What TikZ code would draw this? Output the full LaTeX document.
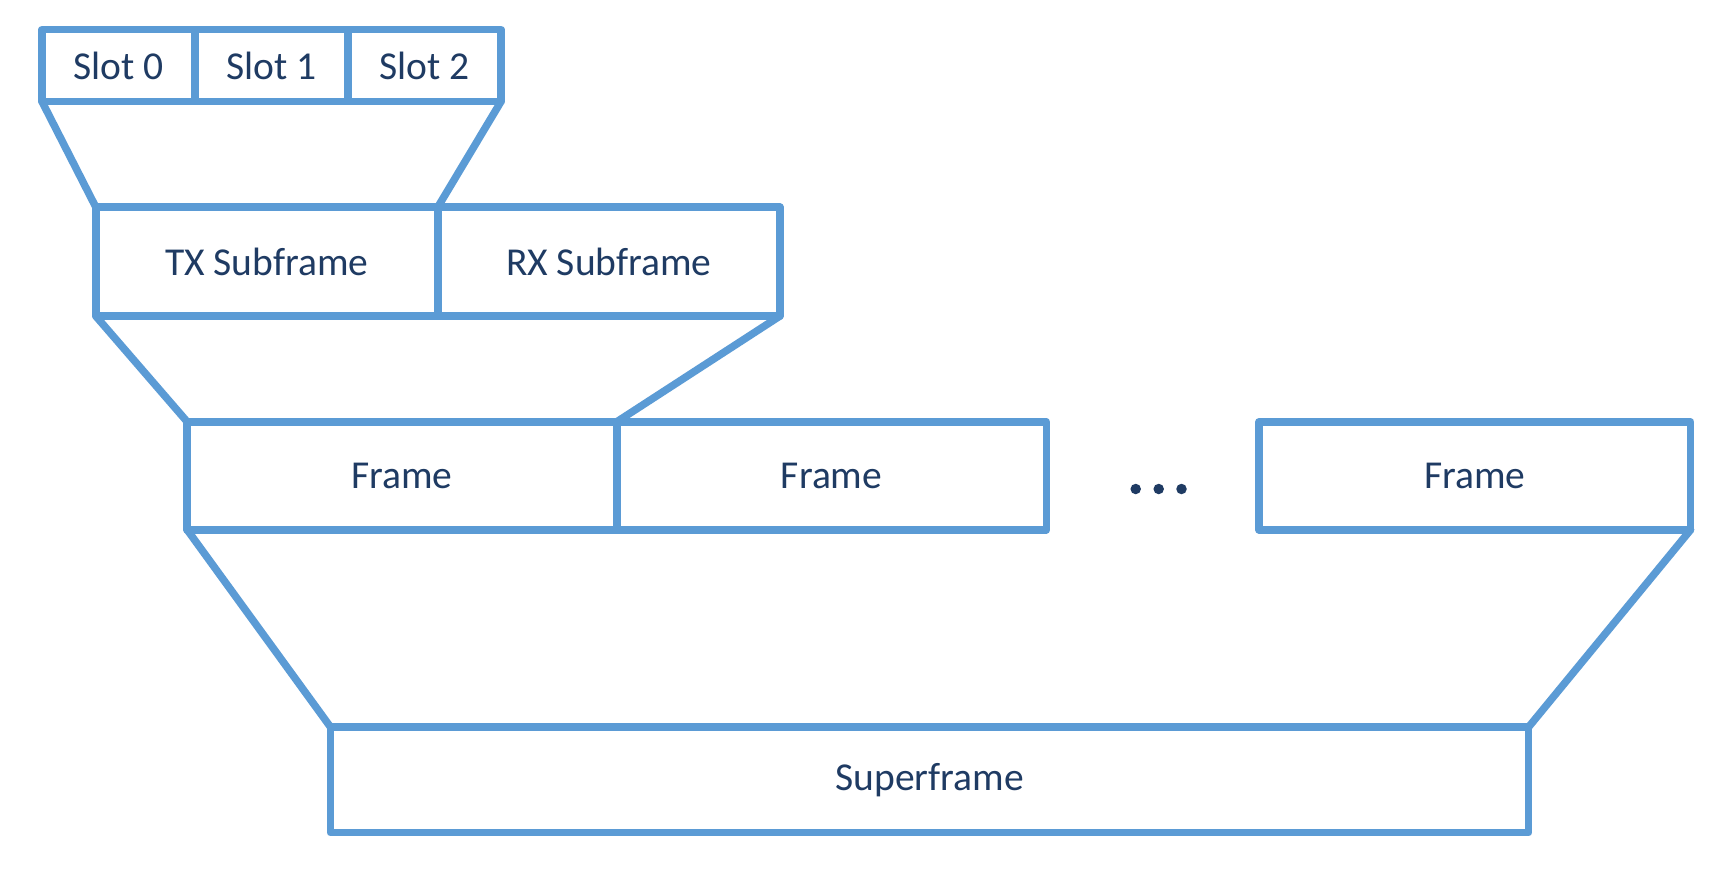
\documentclass[tikz,border=0pt]{standalone}
\usepackage{fontspec}
\setmainfont{Carlito}
\definecolor{linecol}{HTML}{5B9BD5}
\definecolor{txtcol}{HTML}{1F3B63}
\begin{document}
\begin{tikzpicture}[x=0.02cm,y=-0.02cm,
  box/.style={draw=linecol,line width=0.15cm,line join=round,rectangle,inner sep=0pt,outer sep=0pt,
    text=txtcol,font=\fontsize{22.5}{27}\selectfont},
  conn/.style={draw=linecol,line width=0.15cm,line cap=round},
  dotnode/.style={circle,fill=txtcol,inner sep=0pt,minimum size=0.21cm}]
\useasboundingbox[fill=white] (0,0) rectangle (1727,872);
% slots
\node[box,minimum width=153.07*0.02cm,minimum height=71.6*0.02cm] (s0) at (118.4,65.5) {Slot 0};
\node[box,minimum width=153.07*0.02cm,minimum height=71.6*0.02cm] (s1) at (271.5,65.5) {Slot 1};
\node[box,minimum width=153.07*0.02cm,minimum height=71.6*0.02cm] (s2) at (424.6,65.5) {Slot 2};
% subframes
\node[box,minimum width=342*0.02cm,minimum height=109*0.02cm] (tx) at (266.8,261.6) {TX Subframe};
\node[box,minimum width=342*0.02cm,minimum height=109*0.02cm] (rx) at (608.8,261.6) {RX Subframe};
% frames
\node[box,minimum width=429.55*0.02cm,minimum height=108*0.02cm] (f1) at (401.98,475.8) {Frame};
\node[box,minimum width=429.55*0.02cm,minimum height=108*0.02cm] (f2) at (831.53,475.8) {Frame};
\node[box,minimum width=431.7*0.02cm,minimum height=108*0.02cm] (f3) at (1474.75,475.8) {Frame};
% dots
\node[dotnode] (d1) at (1135.7,489) {};
\node[dotnode] (d2) at (1158.7,489) {};
\node[dotnode] (d3) at (1181.5,489) {};
% superframe
\node[box,minimum width=1198.3*0.02cm,minimum height=105.7*0.02cm] (sf) at (929.55,779.75) {Superframe};
% connectors
\draw[conn] (s0.south west) -- (tx.north west);
\draw[conn] (s2.south east) -- (tx.north east);
\draw[conn] (tx.south west) -- (f1.north west);
\draw[conn] (rx.south east) -- (f1.north east);
\draw[conn] (f1.south west) -- (sf.north west);
\draw[conn] (f3.south east) -- (sf.north east);
\end{tikzpicture}
\end{document}
